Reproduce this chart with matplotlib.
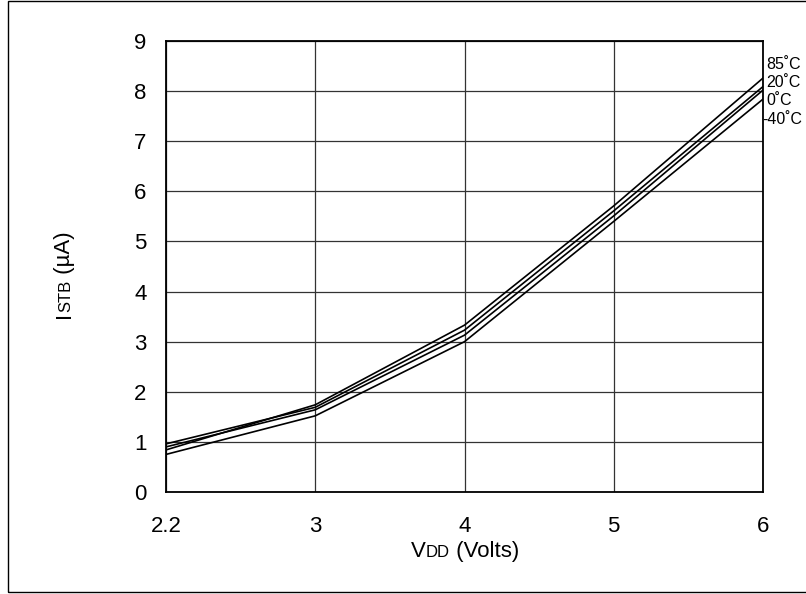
import matplotlib
matplotlib.use("Agg")
import matplotlib.pyplot as plt
from matplotlib.patches import Rectangle

plt.rcParams['font.family'] = ['Liberation Sans', 'DejaVu Sans']

# supply voltage positions (first tick is labelled 2.2 but sits at the grid start)
vdd_pos = [2, 3, 4, 5, 6]
vdd_labels = ['2.2', '3', '4', '5', '6']

# standby current (uA) per temperature
istb_85 = [0.84, 1.74, 3.33, 5.71, 8.26]
istb_20 = [0.96, 1.69, 3.23, 5.61, 8.09]
istb_0 = [0.90, 1.64, 3.13, 5.51, 8.02]
istb_m40 = [0.75, 1.52, 3.00, 5.40, 7.84]
temps = ['85˚C', '20˚C', '0˚C', '-40˚C']

fig = plt.figure(figsize=(8.06, 5.94), dpi=100)
ax = fig.add_axes([166/806, 1-492/594, (763-166)/806, (492-41)/594])

for ys in [istb_85, istb_20, istb_0, istb_m40]:
    ax.plot(vdd_pos, ys, color='black', lw=1.2)

ax.set_xlim(2, 6)
ax.set_ylim(0, 9)
ax.set_xticks(vdd_pos)
ax.set_xticklabels(vdd_labels)
ax.set_yticks(range(10))
ax.tick_params(length=0, labelsize=16)
ax.tick_params(axis='x', pad=17)
ax.tick_params(axis='y', pad=14)
ax.grid(True, color='#333333', lw=0.9)
for s in ax.spines.values():
    s.set_linewidth(1.3)

# temperature labels at the right end
label_y = [0.947, 0.907, 0.867, 0.825]
label_x = [1.006, 1.006, 1.006, 0.999]
for t, lx, ly in zip(temps, label_x, label_y):
    ax.text(lx, ly, t, transform=ax.transAxes, fontsize=11.5,
            ha='left', va='center')

# axis titles with small-cap subscripts
fig.canvas.draw()
r = fig.canvas.get_renderer()

def rich(parts, x, y, rot=0):
    # parts: list of (text, size); placed end to end on one baseline
    objs = []
    for txt, size in parts:
        objs.append(fig.text(0, 0, txt, fontsize=size, rotation=rot,
                             rotation_mode='anchor', ha='left', va='baseline'))
    widths = []
    for o in objs:
        bb = o.get_window_extent(r)
        widths.append(bb.width if rot == 0 else bb.height)
    total = sum(widths)
    pos = -total / 2
    for o, w in zip(objs, widths):
        if rot == 0:
            o.set_position((x + pos / 806, y))
        else:
            o.set_position((x, y + pos / 594))
        pos += w

rich([('V', 16), ('DD', 12), (' (Volts)', 16)], 465/806, 1-557/594)
rich([('I', 16), ('STB', 12), (' (µA)', 16)], 70/806, 1-275/594, rot=90)

fig.add_artist(Rectangle((8/806, 2/594), 0.99 + 8/806, 591/594, fill=False,
                         lw=1.0, edgecolor='black', transform=fig.transFigure))

fig.savefig('out.png', dpi=100)
